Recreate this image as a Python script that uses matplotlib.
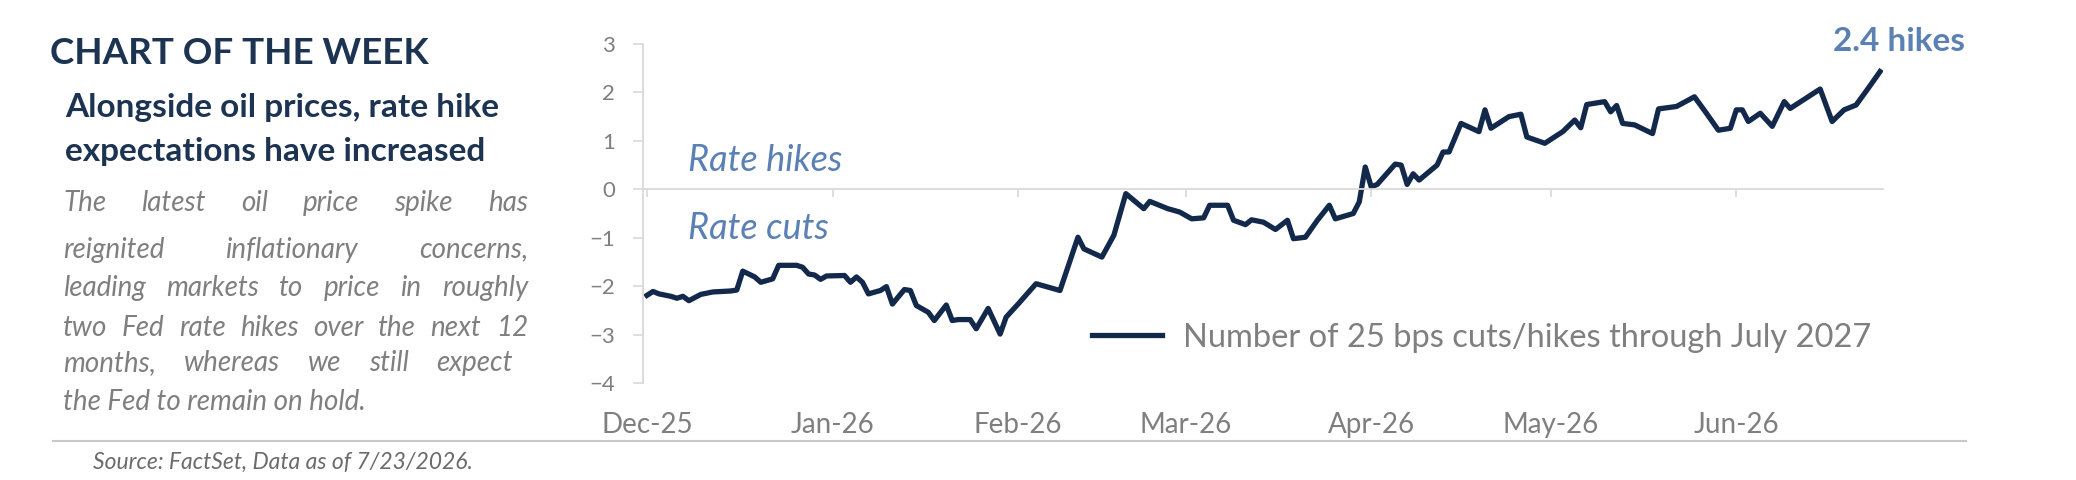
import numpy as np
import pandas as pd
import matplotlib
matplotlib.use("Agg")
import matplotlib.pyplot as plt
import matplotlib.dates as mdates
import matplotlib.transforms as mtransforms

# number of 25 bps cuts (-) / hikes (+) priced through July 2027
DATES = [
    "2025-12-01", "2025-12-02", "2025-12-03", "2025-12-05", "2025-12-06",
    "2025-12-07", "2025-12-08", "2025-12-10", "2025-12-12", "2025-12-15",
    "2025-12-16", "2025-12-17", "2025-12-19", "2025-12-20", "2025-12-22",
    "2025-12-23", "2025-12-26", "2025-12-27", "2025-12-28", "2025-12-29",
    "2025-12-30", "2025-12-31",
    "2026-01-03", "2026-01-04", "2026-01-05", "2026-01-06", "2026-01-07",
    "2026-01-09", "2026-01-10", "2026-01-11", "2026-01-13", "2026-01-14",
    "2026-01-15", "2026-01-17", "2026-01-18", "2026-01-20", "2026-01-21",
    "2026-01-22", "2026-01-24", "2026-01-25", "2026-01-27", "2026-01-29",
    "2026-01-30",
    "2026-02-01", "2026-02-04", "2026-02-06", "2026-02-08", "2026-02-11",
    "2026-02-12", "2026-02-15", "2026-02-17", "2026-02-19", "2026-02-22",
    "2026-02-23", "2026-02-26", "2026-02-28",
    "2026-03-02", "2026-03-04", "2026-03-05", "2026-03-08", "2026-03-09",
    "2026-03-11", "2026-03-12", "2026-03-14", "2026-03-16", "2026-03-18",
    "2026-03-19", "2026-03-21", "2026-03-23", "2026-03-25", "2026-03-26",
    "2026-03-29", "2026-03-30", "2026-03-31",
    "2026-04-01", "2026-04-02", "2026-04-05", "2026-04-06", "2026-04-07",
    "2026-04-08", "2026-04-09", "2026-04-12", "2026-04-13", "2026-04-14",
    "2026-04-16", "2026-04-19", "2026-04-20", "2026-04-21", "2026-04-24",
    "2026-04-26", "2026-04-27", "2026-04-30",
    "2026-05-03", "2026-05-05", "2026-05-06", "2026-05-07", "2026-05-10",
    "2026-05-11", "2026-05-12", "2026-05-13", "2026-05-15", "2026-05-18",
    "2026-05-19", "2026-05-22", "2026-05-25", "2026-05-27", "2026-05-29",
    "2026-05-31",
    "2026-06-01", "2026-06-02", "2026-06-03", "2026-06-05", "2026-06-07",
    "2026-06-09", "2026-06-10", "2026-06-15", "2026-06-17", "2026-06-19",
    "2026-06-21", "2026-06-23", "2026-06-25",
]
CUTS_HIKES = [
    -2.19, -2.11, -2.16, -2.21, -2.25, -2.21, -2.30, -2.17, -2.12, -2.10,
    -2.08, -1.69, -1.81, -1.92, -1.85, -1.57, -1.57, -1.61, -1.75, -1.77,
    -1.86, -1.79,
    -1.78, -1.92, -1.81, -1.92, -2.16, -2.09, -2.01, -2.37, -2.07, -2.09,
    -2.40, -2.54, -2.71, -2.39, -2.71, -2.69, -2.69, -2.88, -2.46, -2.99,
    -2.64,
    -2.37, -1.95, -2.02, -2.09, -0.99, -1.23, -1.40, -0.95, -0.09, -0.40,
    -0.25, -0.40, -0.47,
    -0.61, -0.59, -0.33, -0.33, -0.64, -0.73, -0.63, -0.68, -0.83, -0.64,
    -1.02, -0.99, -0.64, -0.33, -0.61, -0.50, -0.26, 0.46,
    0.05, 0.10, 0.52, 0.50, 0.10, 0.32, 0.19, 0.50, 0.77, 0.77,
    1.36, 1.19, 1.64, 1.26, 1.50, 1.55, 1.08, 0.95,
    1.19, 1.43, 1.27, 1.75, 1.81, 1.60, 1.73, 1.36, 1.33, 1.15,
    1.66, 1.71, 1.91, 1.57, 1.22, 1.26,
    1.64, 1.64, 1.40, 1.57, 1.30, 1.81, 1.67, 2.07, 1.40, 1.64,
    1.74, 2.08, 2.43,
]
MONTHS = ["2025-12-01", "2026-01-01", "2026-02-01", "2026-03-01",
          "2026-04-01", "2026-05-01", "2026-06-01"]
MONTH_LABELS = ["Dec-25", "Jan-26", "Feb-26", "Mar-26", "Apr-26", "May-26",
                "Jun-26"]
Y_TICKS = [-4, -3, -2, -1, 0, 1, 2, 3]

TITLE = "CHART OF THE WEEK"
SUBTITLE = ["Alongside oil prices, rate hike", "expectations have increased"]
BODY = [
    "The latest oil price spike has",
    "reignited inflationary concerns,",
    "leading markets to price in roughly",
    "two Fed rate hikes over the next 12",
    "months, whereas we still expect",
    "the Fed to remain on hold.",
]
SOURCE = "Source: FactSet, Data as of 7/23/2026."
LEGEND = "Number of 25 bps cuts/hikes through July 2027"

NAVY = "#1c3352"
LINE = "#13294b"
BLUE = "#5b80b4"
GRAY = "#7f7f7f"
LIGHT = "#d9d9d9"

plt.rcParams["font.family"] = ["Lato", "DejaVu Sans"]

W, H = 2076, 480
fig = plt.figure(figsize=(W / 100, H / 100), dpi=100)


def fx(px):
    return px / W


def fy(py):
    return 1 - py / H


ax = fig.add_axes([fx(643), fy(383), fx(1240), 339 / H])

dates = pd.to_datetime(DATES)
ax.plot(dates, CUTS_HIKES, color=LINE, lw=3.8, solid_joinstyle="round",
        label=LEGEND)

months = pd.to_datetime(MONTHS)
ax.set_xlim(months[0] - pd.Timedelta(hours=16),
            pd.Timestamp("2026-06-25") + pd.Timedelta(hours=12))
ax.set_ylim(-4, 3)

for s in ["top", "right"]:
    ax.spines[s].set_visible(False)
ax.spines["left"].set_color(LIGHT)
ax.spines["left"].set_linewidth(1.3)
ax.spines["bottom"].set_position(("data", 0))
ax.spines["bottom"].set_color(LIGHT)
ax.spines["bottom"].set_linewidth(1.3)

ax.set_yticks(Y_TICKS)
ax.tick_params(axis="y", length=7, width=1.2, color=LIGHT, labelcolor=GRAY,
               labelsize=16, pad=13)
ax.set_xticks(months)
ax.tick_params(axis="x", length=6, width=1.2, color=LIGHT, labelbottom=False)

sec = ax.secondary_xaxis("bottom")
sec.set_xticks(mdates.date2num(months), MONTH_LABELS)
sec.tick_params(length=0, pad=21, labelcolor=GRAY, labelsize=20)
sec.spines["bottom"].set_visible(False)

ax.legend(loc="center left", bbox_to_anchor=(0.362, 0.133), frameon=False,
          fontsize=23.5, labelcolor=GRAY, handlelength=2.15,
          handletextpad=0.64, borderpad=0, borderaxespad=0)

ax.annotate("2.4 hikes", xy=(dates[-1], CUTS_HIKES[-1]), xytext=(14, 22),
            textcoords="offset points", ha="center", va="center",
            color=BLUE, fontsize=24, fontweight="bold")

blend = mtransforms.blended_transform_factory(ax.transAxes, ax.transData)
ax.text(0.036, 0.6, "Rate hikes", transform=blend, color=BLUE, fontsize=26,
        style="italic", va="center")
ax.text(0.036, -0.8, "Rate cuts", transform=blend, color=BLUE, fontsize=26,
        style="italic", va="center")

# left text panel
fig.text(fx(50), fy(54), TITLE, color=NAVY, fontsize=26.5, fontweight="bold",
         va="center")
for line, y in zip(SUBTITLE, [107, 152]):
    fig.text(fx(65), fy(y), line, color=NAVY, fontsize=24,
             fontweight="bold", va="center")

renderer = fig.canvas.get_renderer()
body_y = [203, 250, 288, 328, 363, 402]
body_right = [528, 528, 528, 528, 513, None]
for line, y, right in zip(BODY, body_y, body_right):
    kw = dict(color=GRAY, fontsize=20, style="italic", va="center")
    if right is None:
        fig.text(fx(63), fy(y), line, **kw)
        continue
    words = line.split()
    texts = [fig.text(0, fy(y), w, **kw) for w in words]
    widths = [t.get_window_extent(renderer).width for t in texts]
    gap = (right - 63 - sum(widths)) / (len(words) - 1)
    x = 63
    for t, w in zip(texts, widths):
        t.set_x(fx(x))
        x += w + gap

fig.add_artist(plt.Line2D([fx(53), fx(1966)], [fy(441), fy(441)],
                          color="#c8c8c8", lw=1.5))
fig.text(fx(93), fy(462), SOURCE, color="#6b6b6b", fontsize=16.5,
         style="italic", va="center")

fig.savefig("out.png", dpi=100, facecolor="white")
